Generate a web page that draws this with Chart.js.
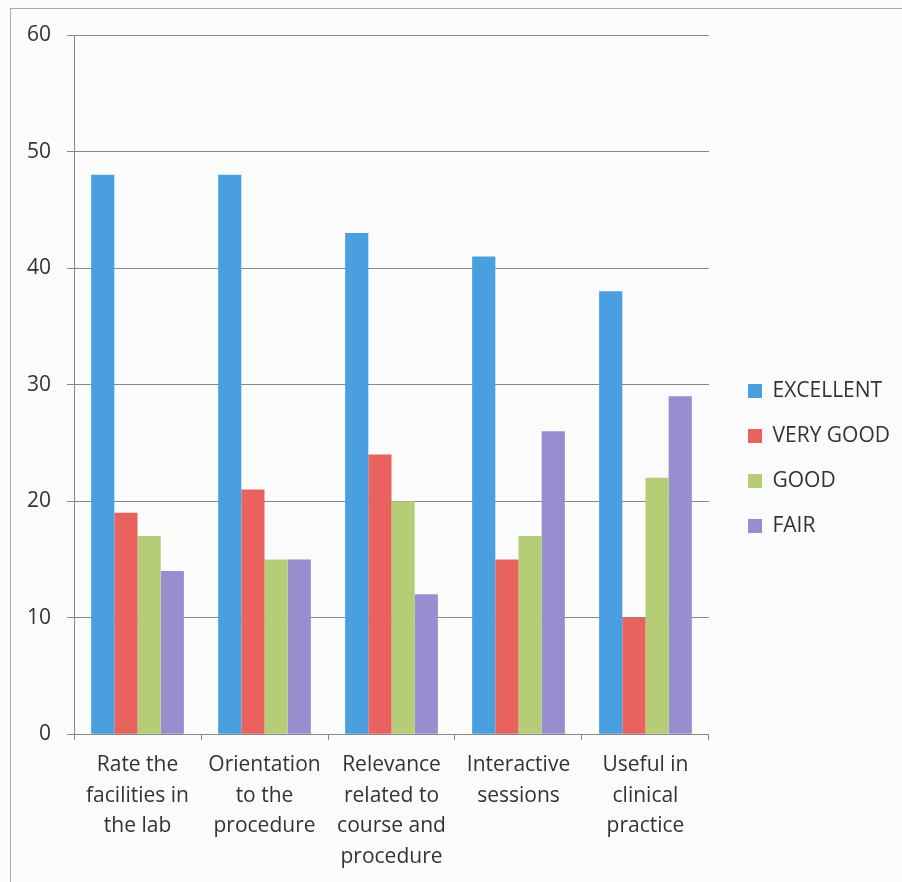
<!DOCTYPE html>
<html lang="en">

<head>
    <meta charset="UTF-8" />
    <title>Feedback chart</title>
    <script src="https://cdn.jsdelivr.net/npm/chart.js"></script>
    <style>
        body { margin: 0; background: #fbfbfb; }
        #wrap { position: relative; width: 902px; height: 882px; }
        #frame { position: absolute; left: 10px; top: 8px; width: 900px; height: 880px; border: 1px solid #aaa; }
        canvas { position: absolute; left: 0; top: 0; }
    </style>
</head>

<body>
    <div id="wrap">
        <div id="frame"></div>
        <canvas id="myChart" width="902" height="882"></canvas>
    </div>

    <script>
        const labels = [
            ["Rate the", "facilities in", "the lab"],
            ["Orientation", "to the", "procedure"],
            ["Relevance", "related to", "course and", "procedure"],
            ["Interactive", "sessions"],
            ["Useful in", "clinical", "practice"],
        ];
        const excellent = [48, 48, 43, 41, 38];
        const veryGood = [19, 21, 24, 15, 10];
        const good = [17, 15, 20, 17, 22];
        const fair = [14, 15, 12, 26, 29];

        const font = "'Open Sans', 'Noto Sans', sans-serif";

        const ds = (label, data, color) => ({
            label: label,
            data: data,
            backgroundColor: color,
            categoryPercentage: 0.73,
            barPercentage: 1.0,
        });

        const config = {
            type: "bar",
            data: {
                labels: labels,
                datasets: [
                    ds("EXCELLENT", excellent, "#4a9fe0"),
                    ds("VERY GOOD", veryGood, "#e8625e"),
                    ds("GOOD", good, "#b6cd78"),
                    ds("FAIR", fair, "#978dcf"),
                ],
            },
            options: {
                responsive: false,
                animation: false,
                layout: { padding: { left: 11, top: 35, right: 2, bottom: 0 } },
                plugins: {
                    tooltip: { enabled: false },
                    legend: {
                        position: "right",
                        maxWidth: 220,
                        labels: {
                            font: { family: font, size: 21 },
                            color: "#333",
                            boxWidth: 14,
                            boxHeight: 14,
                            padding: 24,
                        },
                    },
                },
                scales: {
                    x: {
                        grid: {
                            offset: true,
                            drawOnChartArea: false,
                            color: "#888",
                            tickLength: 6,
                        },
                        border: { color: "#888" },
                        ticks: {
                            font: { family: font, size: 21, lineHeight: 1.45 },
                            color: "#333",
                            padding: 10,
                            maxRotation: 0,
                            autoSkip: false,
                        },
                        afterFit: (s) => { s.paddingLeft = 0; s.paddingRight = 0; },
                    },
                    y: {
                        min: 0,
                        max: 60,
                        ticks: {
                            stepSize: 10,
                            font: { family: font, size: 21 },
                            color: "#333",
                            padding: 16,
                        },
                        grid: { color: "#888", tickLength: 7 },
                        border: { color: "#888" },
                    },
                    // empty right axis, only to keep a gap before the legend
                    gap: {
                        type: "linear",
                        position: "right",
                        display: true,
                        grid: { display: false },
                        border: { display: false },
                        ticks: { display: false },
                        afterFit: (s) => { s.width = 15; },
                    },
                },
            },
        };

        const myChart = new Chart(document.getElementById("myChart"), config);
    </script>
</body>

</html>
